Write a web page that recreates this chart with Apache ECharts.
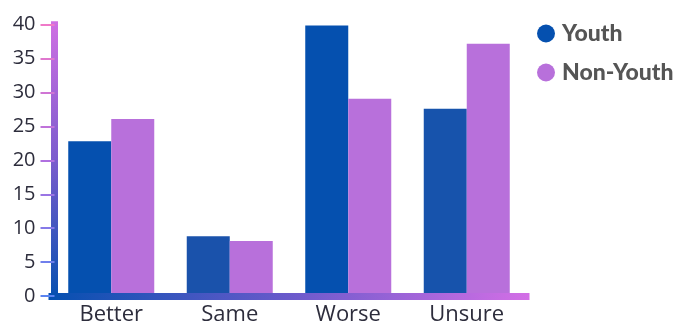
<!DOCTYPE html>
<html>
<head>
<meta charset="utf-8">
<script src="https://cdn.jsdelivr.net/npm/echarts@6/dist/echarts.min.js"></script>
<style>
html,body{margin:0;padding:0;background:#fff;}
#canvas{width:682px;height:326px;}
</style>
</head>
<body>
<div id="canvas"></div>
<script>
var categories = ['Better', 'Same', 'Worse', 'Unsure'];
var seriesNames = ['Youth', 'Non-Youth'];
var youth = [22.8, 8.8, 39.9, 27.6];
var nonYouth = [26.1, 8.1, 29.1, 37.2];
var yTicks = [0, 5, 10, 15, 20, 25, 30, 35, 40];

var youthColors = ['#0550af', '#1a52ab', '#0550af', '#1753ac'];
var nonYouthColor = '#b870db';

var myChart = echarts.init(document.getElementById('canvas'));

function barOptions(){
	var G = echarts.graphic.LinearGradient;
	option = {
		animation: false,
		backgroundColor: '#ffffff',
		legend: {
			orient: 'vertical',
			left: 532,
			top: 17,
			icon: 'circle',
			itemWidth: 18,
			itemHeight: 18,
			itemGap: 16,
			data: seriesNames,
			textStyle: {
				fontFamily: 'Lato',
				fontWeight: 900,
				fontSize: 23,
				color: '#555555',
				padding: [0, 0, 0, 2]
			}
		},
		grid: {
			left: 52,
			right: 156,
			top: 24.7,
			bottom: 29,
			containLabel: false
		},
		xAxis: {
			type: 'category',
			data: categories,
			z: 5,
			axisLine: {
				lineStyle: {
					width: 7,
					cap: 'square',
					color: new G(0, 0, 1, 0, [
						{offset: 0, color: '#0550b0'},
						{offset: 0.5, color: '#6a5acb'},
						{offset: 1, color: '#d36fe6'}
					])
				}
			},
			axisTick: {show: false},
			axisLabel: {
				margin: 8,
				fontFamily: 'Open Sans',
				fontSize: 22,
				color: '#2d2d3c'
			}
		},
		yAxis: {
			type: 'value',
			min: 0,
			max: 40,
			interval: 5,
			offset: -2.5,
			z: 5,
			splitLine: {show: false},
			axisLine: {
				show: true,
				lineStyle: {
					width: 7,
					cap: 'square',
					color: new G(0, 0, 0, 1, [
						{offset: 0, color: '#cf6fe3'},
						{offset: 0.5, color: '#7a5ccd'},
						{offset: 1, color: '#0550b0'}
					])
				}
			},
			axisTick: {
				show: true,
				length: 14,
				lineStyle: {
					width: 2,
					color: new G(0, 24, 0, 297, [
						{offset: 0, color: '#f07ac8'},
						{offset: 0.5, color: '#b070e0'},
						{offset: 1, color: '#5a84f0'}
					], true)
				}
			},
			axisLabel: {
				margin: 19,
				fontFamily: 'Open Sans',
				fontSize: 20,
				color: '#2d2d3c',
				formatter: function(v){ return yTicks.indexOf(v) >= 0 ? String(v) : ''; }
			}
		},
		series: [
			{
				name: seriesNames[0],
				type: 'bar',
				barWidth: 43,
				barGap: '0%',
				itemStyle: {color: youthColors[0]},
				data: youth.map(function(v, i){
					return {value: v, itemStyle: {color: youthColors[i]}};
				})
			},
			{
				name: seriesNames[1],
				type: 'bar',
				barWidth: 43,
				barGap: '0%',
				itemStyle: {color: nonYouthColor},
				data: nonYouth
			}
		]
	};
	return option;
}

myChart.setOption(barOptions());
</script>
</body>
</html>
